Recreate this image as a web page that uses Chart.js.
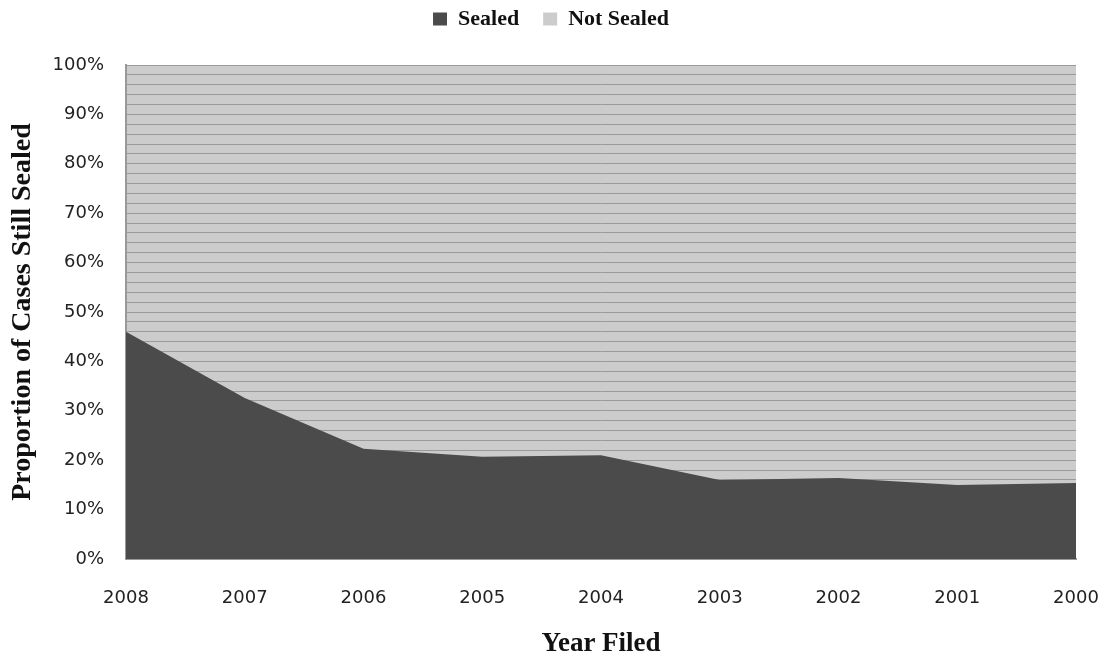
<!DOCTYPE html>
<html>
<head>
<meta charset="utf-8">
<script src="https://cdn.jsdelivr.net/npm/chart.js@4/dist/chart.umd.min.js"></script>
<style>
html,body{margin:0;padding:0;background:#fff;}
#wrap{width:1104px;height:658px;position:relative;}
</style>
</head>
<body>
<div id="wrap"><canvas id="c" width="1104" height="658"></canvas></div>
<script>
const years = ["2008","2007","2006","2005","2004","2003","2002","2001","2000"];
const sealed = [46.0, 32.6, 22.3, 20.7, 21.0, 16.0, 16.4, 15.0, 15.4];
const notSealed = [54.0, 67.4, 77.7, 79.3, 79.0, 84.0, 83.6, 85.0, 84.6];
const yTickStep = 2;
const yLabelStep = 10;

const plotBg = {
  id: 'plotBg',
  afterInit(chart) {
    const lg = chart.legend;
    if (lg && !lg._patched) {
      const orig = lg.fit.bind(lg);
      lg.fit = function () { orig(); this.height = 81; };
      lg._patched = true;
    }
  },
  afterLayout(chart) {
    const lg = chart.legend;
    if (lg) { lg.left += 13; lg.right += 13; }
  },
  beforeDraw(chart) {
    const a = chart.chartArea, ctx = chart.ctx;
    ctx.save();
    ctx.fillStyle = '#cccccc';
    ctx.fillRect(a.left, a.top, a.right - a.left, a.bottom - a.top);
    ctx.restore();
  }
};

new Chart(document.getElementById('c'), {
  type: 'line',
  data: {
    labels: years,
    datasets: [
      {
        label: 'Sealed',
        data: sealed,
        fill: 'origin',
        backgroundColor: '#4b4b4b',
        borderColor: '#4b4b4b',
        borderWidth: 0,
        pointRadius: 0,
        tension: 0,
        stack: 's'
      },
      {
        label: 'Not Sealed',
        data: notSealed,
        fill: false,
        backgroundColor: '#cccccc',
        borderColor: 'rgba(0,0,0,0)',
        borderWidth: 0,
        pointRadius: 0,
        tension: 0,
        stack: 's'
      }
    ]
  },
  options: {
    responsive: false,
    animation: false,
    layout: { padding: { top: -16, right: 28, left: 0, bottom: 0 } },
    plugins: {
      legend: {
        position: 'top',
        labels: {
          boxWidth: 14,
          boxHeight: 13,
          padding: 24,
          color: '#111',
          font: { family: '"Liberation Serif", "Times New Roman", serif', weight: 'bold', size: 22 },
          generateLabels(chart) {
            return chart.data.datasets.map((d, i) => ({
              text: d.label,
              fillStyle: d.backgroundColor,
              strokeStyle: d.backgroundColor,
              lineWidth: 0,
              hidden: false,
              datasetIndex: i,
              fontColor: '#111'
            }));
          }
        }
      },
      tooltip: { enabled: false }
    },
    scales: {
      x: {
        offset: false,
        grid: { display: false, drawTicks: false },
        border: { display: true, color: '#999999', width: 2 },
        ticks: {
          padding: 29,
          color: '#222',
          maxRotation: 0,
          autoSkip: false,
          font: { family: '"DejaVu Sans", Verdana, sans-serif', size: 18 }
        },
        title: {
          display: true,
          text: 'Year Filed',
          color: '#111',
          padding: { top: 0, bottom: 0 },
          font: { family: '"Liberation Serif", "Times New Roman", serif', weight: 'bold', size: 27, lineHeight: 1.0 }
        },
        afterFit(s) { s.height = 99; s.paddingRight = 2; }
      },
      y: {
        stacked: true,
        min: 0,
        max: 100,
        grid: { color: '#9a9a9a', lineWidth: 1, drawTicks: false },
        border: { display: true, color: '#999999', width: 2 },
        ticks: {
          stepSize: yTickStep,
          autoSkip: false,
          padding: 22,
          color: '#222',
          font: { family: '"DejaVu Sans", Verdana, sans-serif', size: 18 },
          callback(v) { return (v % yLabelStep === 0) ? v + '%' : ''; }
        },
        title: {
          display: true,
          text: 'Proportion of Cases Still Sealed',
          color: '#111',
          padding: { top: 6, bottom: 0 },
          font: { family: '"Liberation Serif", "Times New Roman", serif', weight: 'bold', size: 28 }
        },
        afterFit(s) { s.width = 126; }
      }
    }
  },
  plugins: [plotBg]
});
</script>
</body>
</html>
